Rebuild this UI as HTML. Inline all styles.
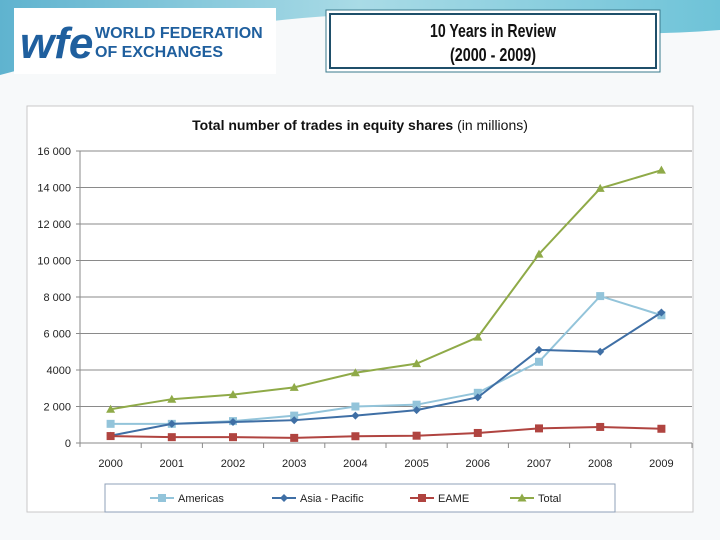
<!DOCTYPE html>
<html><head><meta charset="utf-8"><style>
body{margin:0;width:720px;height:540px;overflow:hidden;background:#f7f9fa;font-family:"Liberation Sans",sans-serif;position:relative}
</style></head><body>
<svg width="720" height="540" style="position:absolute;left:0;top:0">
<defs><linearGradient id="sw" x1="0" x2="1"><stop offset="0" stop-color="#5fb3cf"/><stop offset="0.5" stop-color="#a9dbe6"/><stop offset="1" stop-color="#6ec3d8"/></linearGradient></defs>
<path d="M0,0 H720 V30 Q600,40 480,20 Q300,-5 0,75 Z" fill="url(#sw)"/>
<rect x="14" y="8" width="262" height="66" fill="#fff"/>
<text x="20" y="58" font-size="44" font-weight="bold" fill="#1f5f9e" font-style="italic">wfe</text>
<text x="95" y="38" font-size="16" font-weight="bold" fill="#1f5f9e">WORLD FEDERATION</text>
<text x="95" y="57" font-size="16" font-weight="bold" fill="#1f5f9e">OF EXCHANGES</text>
<rect x="326" y="10" width="334" height="62" fill="#fff" stroke="#3a7a8c" stroke-width="1"/>
<rect x="330" y="14" width="326" height="54" fill="#fff" stroke="#1f4f6a" stroke-width="2"/>
<text x="493" y="37" font-size="18" font-weight="bold" text-anchor="middle" fill="#111" textLength="126" lengthAdjust="spacingAndGlyphs">10 Years in Review</text>
<text x="493" y="61" font-size="18" font-weight="bold" text-anchor="middle" fill="#111" textLength="86" lengthAdjust="spacingAndGlyphs">(2000 - 2009)</text>
<rect x="27" y="106" width="666" height="406" fill="#fff" stroke="#c8c8c8"/>
<text x="360" y="130" font-size="14" text-anchor="middle" fill="#111"><tspan font-weight="bold">Total number of trades in equity shares</tspan> (in millions)</text>
<g id="chart"></g>
<rect x="105" y="484" width="510" height="28" fill="#fff" stroke="#8fa0b8"/>
<g id="legend"></g>
</svg>
<script>
const years=["2000","2001","2002","2003","2004","2005","2006","2007","2008","2009"];
const americas=[1050,1050,1200,1500,2000,2100,2750,4450,8050,7000];
const asiaPacific=[400,1050,1150,1250,1500,1800,2500,5100,5000,7150];
const eame=[380,320,320,280,370,400,550,800,880,780];
const total=[1850,2400,2650,3050,3850,4350,5800,10350,13950,14950];
const yTicks=[0,2000,4000,6000,8000,10000,12000,14000,16000];
const yTickLabels=["0","2 000","4000","6 000","8 000","10 000","12 000","14 000","16 000"];
const NS="http://www.w3.org/2000/svg";
const L=80,R=692,T=151,B=443,MAX=16000;
const cw=(R-L)/years.length;
const x=i=>L+cw*(i+0.5);
const y=v=>B-(v/MAX)*(B-T);
const g=document.getElementById('chart');
function mk(t,a,p){const e=document.createElementNS(NS,t);for(const k in a)e.setAttribute(k,a[k]);(p||g).appendChild(e);return e;}
yTicks.forEach((v,i)=>{
 const ln=mk('line',{x1:L-4,x2:R,y1:y(v),y2:y(v),stroke:'#8a8a8a','stroke-width':1});
 
 
 const t=mk('text',{x:L-9,y:y(v)+4,'font-size':11,'text-anchor':'end',fill:'#222'});t.textContent=yTickLabels[i];
 
 
});
const ax=mk('line',{x1:L,x2:L,y1:T,y2:B+4,stroke:'#8a8a8a'});


years.forEach((yr,i)=>{
 const tk=mk('line',{x1:L+cw*(i+1),x2:L+cw*(i+1),y1:B,y2:B+5,stroke:'#8a8a8a'});
 
 
 const t=mk('text',{x:x(i),y:B+24,'font-size':11,'text-anchor':'middle',fill:'#222'});t.textContent=yr;
 
 
});
function marker(type,cx,cy,col,p){
 let e;
 if(type==='sq')e=mk('rect',{x:cx-4,y:cy-4,width:8,height:8,fill:col},p);
 else if(type==='dia')e=mk('path',{d:`M${cx},${cy-4}L${cx+4},${cy}L${cx},${cy+4}L${cx-4},${cy}Z`,fill:col},p);
 else e=mk('path',{d:`M${cx},${cy-4.5}L${cx+4.5},${cy+3.5}L${cx-4.5},${cy+3.5}Z`,fill:col},p);
 return e;
}
const series=[["americas",americas,'#93c4da','sq',"Americas"],["asia-pacific",asiaPacific,'#3f6fa5','dia',"Asia - Pacific"],["eame",eame,'#b04440','sq',"EAME"],["total",total,'#8faa48','tri',"Total"]];
series.forEach(([n,d,c,m])=>{
 const pl=mk('polyline',{points:d.map((v,i)=>x(i)+','+y(v)).join(' '),fill:'none',stroke:c,'stroke-width':2});
 
 
 d.forEach((v,i)=>{const e=marker(m,x(i),y(v),c);
  
  });
});
const lg=document.getElementById('legend');
const lx=[160,282,420,520];
series.forEach(([n,d,c,m,label],i)=>{
 const l=mk('line',{x1:lx[i]-10,x2:lx[i]+14,y1:498,y2:498,stroke:c,'stroke-width':2},lg);
 
 
 marker(m,lx[i]+2,498,c,lg);
 const t=mk('text',{x:lx[i]+18,y:502,'font-size':11,fill:'#222'},lg);t.textContent=label;
 
 
});
</script>
</body></html>
